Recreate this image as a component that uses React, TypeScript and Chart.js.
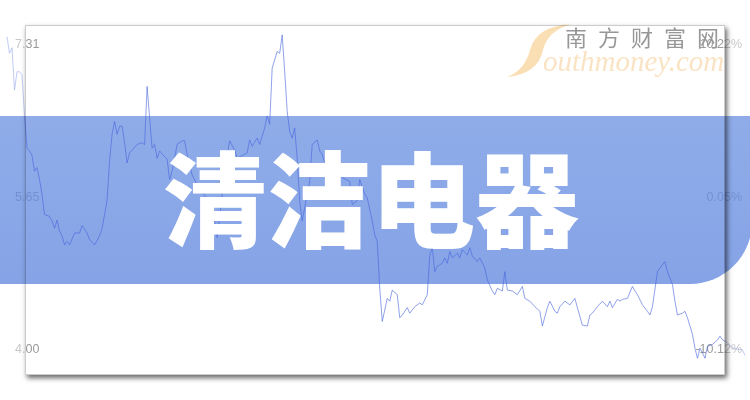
import React, { useEffect, useRef } from "react";
import { Chart, registerables } from "chart.js";

Chart.register(...registerables);

// trading-day index (x) and close price (y)
const days = [
  0, 1, 2, 3, 4, 5, 6, 7, 8, 9, 10, 11, 12, 13, 14, 15, 17, 18, 19, 20, 21, 22, 23, 24, 25, 27, 29, 30, 32, 33, 35, 37, 38,
  40, 41, 42, 43, 44, 45, 46, 47, 48, 49, 50, 52, 54, 55, 56, 57, 58, 59, 60, 61, 63, 64, 65, 66, 68, 70, 71, 72, 74,
  77, 79, 81, 83, 84, 86, 87, 89, 91, 92, 96, 97, 98, 100, 101, 103, 104, 105, 106, 108, 109, 110, 111, 112, 113, 114,
  115, 116, 117, 118, 120, 121, 122, 124, 125, 126, 128, 131, 134, 137, 138, 140, 141, 143, 144, 146, 147, 148, 149,
  150, 152, 153, 154, 156, 157, 158, 160, 161, 163, 165, 166, 168, 169, 170, 171, 172, 174, 175, 176, 177, 178, 180,
  181, 182, 184, 185, 186, 188, 189, 191, 192, 194, 195, 196, 198, 199, 200, 202, 204, 206, 207, 209, 211, 213, 214,
  216, 217, 219, 220, 221, 223, 225, 227, 228, 230, 232, 233, 234, 236, 238, 240, 241, 242, 244, 245, 246, 248, 250,
  251, 252, 254, 256, 257, 258, 260, 261, 263, 264, 266, 267, 268, 270, 271, 272, 274, 275, 276, 277, 278, 279, 280,
  282, 284, 285, 286, 288, 290, 294, 295,
];
const prices = [
  7.4, 7.22, 7.28, 6.82, 7.02, 7.02, 6.99, 6.55, 6.19, 6.16, 6.11, 5.94, 5.98, 5.85, 5.69, 5.47, 5.45, 5.4, 5.32, 5.41,
  5.29, 5.24, 5.14, 5.18, 5.14, 5.27, 5.27, 5.35, 5.27, 5.2, 5.14, 5.24, 5.32,
  5.62, 6.05, 6.34, 6.48, 6.34, 6.43, 6.43, 6.25, 6.03, 6.14, 6.17, 6.23, 6.25, 6.23, 6.86, 6.52, 6.19, 6.23, 6.08,
  6.16, 6.1, 6.07, 5.85, 5.94, 6.23, 6.27, 6.27, 6.12, 5.9,
  5.74, 5.68, 5.57, 5.39, 5.22, 5.69, 5.95, 6.27, 6.17, 6.08, 6.14, 6.28, 6.21, 6.3, 6.23, 6.41, 6.54, 6.45, 7.06, 7.24,
  7.22, 7.42, 7.02, 6.59, 6.37, 6.3,
  6.41, 6.08, 5.62, 5.4, 5.69, 5.83, 6.23, 6.28, 6.16, 6.12, 5.95, 6.01, 5.87, 5.83, 5.58, 5.62, 5.85, 5.69, 5.65, 5.4,
  5.25, 5.18, 4.67,
  4.31, 4.56, 4.53, 4.65, 4.6, 4.35, 4.38, 4.46, 4.4, 4.47, 4.51, 4.49, 4.6, 5.03, 5.11, 4.85, 4.91, 4.94, 5.0, 4.94,
  5.07, 5.0, 5.05,
  5.0, 5.09, 5.03, 5.11, 5.02, 4.96, 5.0, 4.89, 4.76, 4.64, 4.6, 4.67, 4.64, 4.85, 4.65, 4.64, 4.6, 4.69, 4.56, 4.53,
  4.47, 4.42, 4.26,
  4.46, 4.53, 4.42, 4.4, 4.47, 4.53, 4.49, 4.56, 4.46, 4.27, 4.26, 4.38, 4.4, 4.47, 4.53, 4.47, 4.53, 4.46, 4.55, 4.53,
  4.55, 4.56, 4.69,
  4.64, 4.6, 4.49, 4.42, 4.38, 4.47, 4.85, 4.89, 4.96, 4.85, 4.71, 4.53, 4.38, 4.4, 4.42, 4.35, 4.17, 4.02, 3.91, 4.02,
  3.97, 3.91, 4.04,
  4.06, 4.11, 4.15, 4.11, 4.08, 4.02, 4.0, 3.94,
];

const leftTicks = [7.31, 5.65, 4.0];
const leftTickLabels = ["7.31", "5.65", "4.00"];
const rightTicks = [10.22, 0.05, -10.12];
const rightTickLabels = ["10.22%", "0.05%", "-10.12%"];
const title = "清洁电器";
const brandCn = "南方财富网";
const brandEn = "outhmoney.com";

const W = 750;
const H = 400;

const decorPlugin = {
  id: "decor",
  beforeDraw(chart: any) {
    const ctx = chart.ctx as CanvasRenderingContext2D;
    ctx.save();
    ctx.fillStyle = "#ffffff";
    ctx.fillRect(0, 0, W, H);

    // watermark swoosh
    ctx.fillStyle = "rgba(246,200,130,0.6)";
    ctx.beginPath();
    ctx.moveTo(572, 24);
    ctx.quadraticCurveTo(536, 26, 530, 50);
    ctx.quadraticCurveTo(525, 70, 507, 77);
    ctx.quadraticCurveTo(538, 74, 543, 50);
    ctx.quadraticCurveTo(548, 30, 572, 24);
    ctx.closePath();
    ctx.fill();

    ctx.fillStyle = "rgba(248,215,170,0.7)";
    ctx.font = 'italic 29px "Liberation Serif"';
    ctx.textAlign = "left";
    ctx.textBaseline = "alphabetic";
    ctx.fillText(brandEn, 543, 71);

    ctx.fillStyle = "rgba(125,125,125,0.8)";
    ctx.font = '400 22px "Noto Sans CJK SC"';
    (ctx as any).letterSpacing = "11px";
    ctx.textBaseline = "middle";
    ctx.fillText(brandCn, 565, 38);
    (ctx as any).letterSpacing = "0px";
    ctx.restore();
  },
  beforeDatasetsDraw(chart: any) {
    const ctx = chart.ctx as CanvasRenderingContext2D;
    const y = chart.scales.y;
    const y1 = chart.scales.y1;
    ctx.save();
    ctx.fillStyle = "#9a9a9a";
    ctx.font = '12.5px "Liberation Sans"';
    ctx.textBaseline = "middle";
    ctx.textAlign = "left";
    leftTicks.forEach((v, i) => ctx.fillText(leftTickLabels[i], 15, y.getPixelForValue(v)));
    ctx.textAlign = "right";
    rightTicks.forEach((v, i) => ctx.fillText(rightTickLabels[i], 742, y1.getPixelForValue(v)));

    // banner
    const top = 116;
    const bottom = 284;
    const right = 752;
    const r = 62;
    const g = ctx.createLinearGradient(0, top, 0, bottom);
    g.addColorStop(0, "rgba(108,146,226,0.76)");
    g.addColorStop(1, "rgba(95,134,222,0.76)");
    ctx.fillStyle = g;
    ctx.beginPath();
    ctx.moveTo(0, top);
    ctx.lineTo(right, top);
    ctx.lineTo(right, bottom - r);
    ctx.arcTo(right, bottom, right - r, bottom, r);
    ctx.lineTo(0, bottom);
    ctx.closePath();
    ctx.fill();
    ctx.restore();
  },
  afterDatasetsDraw(chart: any) {
    const ctx = chart.ctx as CanvasRenderingContext2D;
    ctx.save();
    // lighten outside the card (not over banner)
    ctx.fillStyle = "rgba(255,255,255,0.45)";
    ctx.fillRect(0, 0, 25, 116);
    ctx.fillRect(0, 284, 25, 116);
    ctx.fillRect(725, 0, 25, 116);
    ctx.fillRect(725, 284, 25, 116);
    ctx.fillRect(25, 0, 700, 25);
    ctx.fillRect(25, 375, 700, 25);

    // title
    ctx.fillStyle = "#ffffff";
    ctx.font = '900 104px "Noto Sans CJK SC"';
    ctx.textAlign = "center";
    ctx.textBaseline = "middle";
    ctx.fillText(title, 371, 200);

    // card shadow on top
    ctx.beginPath();
    ctx.rect(0, 0, W, H);
    ctx.rect(25, 25, 700, 350);
    ctx.clip("evenodd");
    ctx.shadowColor = "rgba(0,0,0,0.6)";
    ctx.shadowBlur = 5;
    ctx.shadowOffsetX = 2;
    ctx.shadowOffsetY = 3;
    ctx.fillStyle = "#ffffff";
    ctx.fillRect(25, 25, 700, 350);
    ctx.restore();

    ctx.save();
    ctx.strokeStyle = "rgba(0,0,0,0.2)";
    ctx.lineWidth = 1;
    ctx.strokeRect(25.5, 25.5, 699, 349);
    ctx.restore();
  },
};

export default function App() {
  const ref = useRef<HTMLCanvasElement | null>(null);
  useEffect(() => {
    if (!ref.current) return;
    const chart = new Chart(ref.current, {
      type: "line",
      data: {
        datasets: [
          {
            data: days.map((d, i) => ({ x: d, y: prices[i] })),
            borderColor: "rgba(70,100,220,0.6)",
            borderWidth: 1,
            pointRadius: 0,
            tension: 0,
            fill: false,
            clip: false as any,
          },
        ],
      },
      options: {
        responsive: false,
        animation: false,
        devicePixelRatio: 1,
        layout: { padding: { left: 7, right: 5, top: 45, bottom: 50 } },
        plugins: { legend: { display: false }, tooltip: { enabled: false } },
        scales: {
          x: { type: "linear", min: 0, max: 295, display: false },
          y: { type: "linear", min: 4.0, max: 7.31, display: false },
          y1: { type: "linear", min: -10.12, max: 10.22, display: false, position: "right" },
        },
      },
      plugins: [decorPlugin],
    });
    return () => chart.destroy();
  }, []);
  return (
    <div style={{ position: "fixed", left: 0, top: 0, width: W, height: H }}>
      <canvas ref={ref} width={W} height={H} style={{ display: "block", width: W, height: H }} />
    </div>
  );
}
